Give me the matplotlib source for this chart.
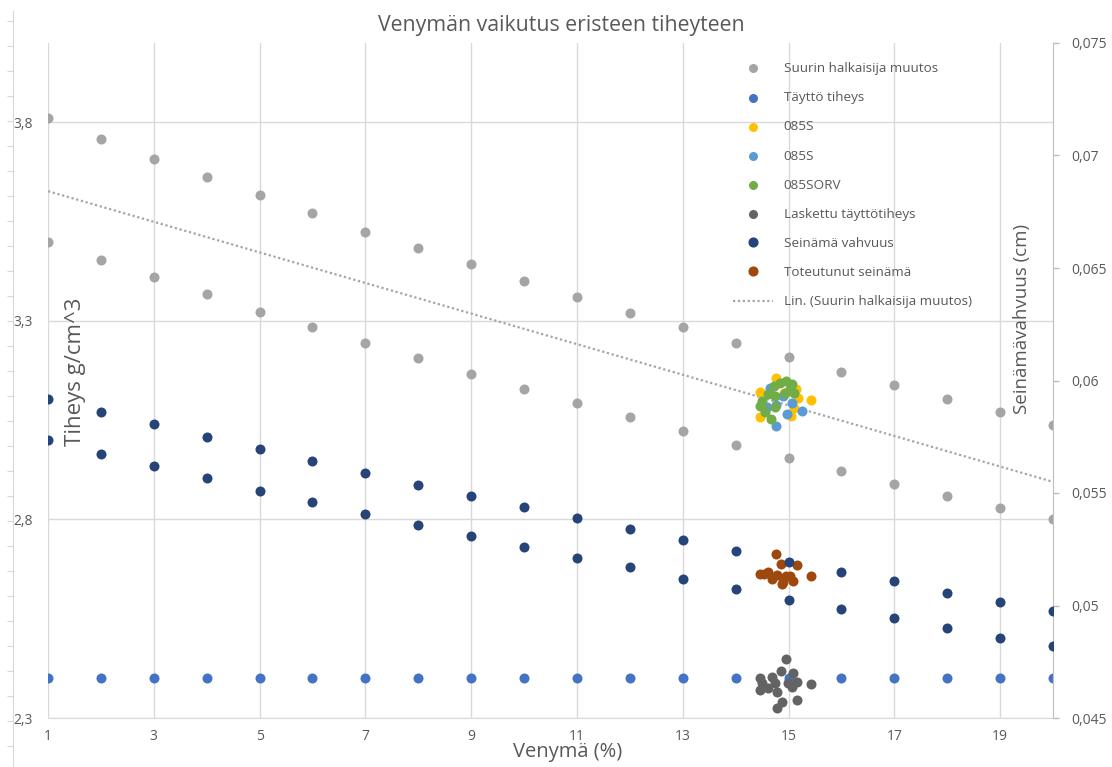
import matplotlib
matplotlib.use("Agg")
import matplotlib.pyplot as plt
import numpy as np
from matplotlib.lines import Line2D

plt.rcParams['font.family'] = ['Open Sans', 'DejaVu Sans']

# x positions (venymä %) for the regular series
venyma = list(range(1, 21))

# Suurin halkaisija muutos (two measurement rows, left axis)
halkaisija_ylempi = [3.810, 3.759, 3.709, 3.662, 3.617, 3.571, 3.524, 3.483, 3.443, 3.400,
                     3.360, 3.320, 3.285, 3.245, 3.210, 3.172, 3.139, 3.104, 3.071, 3.039]
halkaisija_alempi = [3.498, 3.453, 3.411, 3.368, 3.323, 3.285, 3.245, 3.207, 3.167, 3.129,
                     3.094, 3.059, 3.024, 2.988, 2.956, 2.923, 2.890, 2.860, 2.830, 2.800]

# Täyttö tiheys (left axis)
tayttotiheys = [2.4] * 20

# Seinämä vahvuus (right axis, cm)
seinama_ylempi = [0.05918, 0.05860, 0.05806, 0.05748, 0.05695, 0.05641, 0.05588, 0.05534,
                  0.05485, 0.05436, 0.05387, 0.05338, 0.05289, 0.05244, 0.05195, 0.05151,
                  0.05111, 0.05057, 0.05017, 0.04976]
seinama_alempi = [0.05735, 0.05672, 0.05619, 0.05565, 0.05507, 0.05458, 0.05405, 0.05356,
                  0.05307, 0.05262, 0.05209, 0.05169, 0.05120, 0.05075, 0.05026, 0.04986,
                  0.04946, 0.04901, 0.04854, 0.04820]

# sample clusters around 15 %
s085_keltainen_x = [14.76, 14.46, 15.42, 14.46, 15.14, 15.18, 15.05, 15.10, 14.91]
s085_keltainen_y = [3.157, 3.122, 3.102, 3.059, 3.129, 3.107, 3.061, 3.081, 3.119]
s085_sininen_x = [14.76, 15.25, 14.97, 15.06, 14.65, 14.59, 14.76, 14.89]
s085_sininen_y = [3.036, 3.074, 3.066, 3.094, 3.132, 3.084, 3.089, 3.112]
s085orv_x = [14.46, 14.61, 14.72, 14.84, 14.95, 15.06, 14.74, 14.93, 15.10, 14.55,
             14.74, 14.67, 15.03, 14.50]
s085orv_y = [3.086, 3.117, 3.137, 3.144, 3.149, 3.142, 3.112, 3.119, 3.119, 3.071,
             3.084, 3.054, 3.129, 3.099]
laskettu_x = [14.95, 14.46, 14.69, 14.86, 15.08, 15.16, 15.06, 15.42, 14.46, 14.61,
              14.74, 14.78, 14.99, 15.16, 14.88, 14.78, 14.50]
laskettu_y = [2.448, 2.400, 2.403, 2.418, 2.413, 2.390, 2.378, 2.385, 2.370, 2.375,
              2.388, 2.365, 2.388, 2.345, 2.340, 2.325, 2.388]
toteutunut_x = [14.76, 14.86, 15.16, 15.42, 14.46, 14.61, 14.69, 14.78, 14.89, 15.03,
                15.08, 14.88, 14.54, 14.95]
toteutunut_y = [0.05227, 0.05186, 0.05178, 0.05133, 0.05142, 0.05151, 0.05120, 0.05137,
                0.05106, 0.05129, 0.05111, 0.05097, 0.05142, 0.05129]

x_ticks = [1, 3, 5, 7, 9, 11, 13, 15, 17, 19]
y_ticks = [2.3, 2.8, 3.3, 3.8]
y_tick_labels = ['2,3', '2,8', '3,3', '3,8']
y2_ticks = [0.045, 0.05, 0.055, 0.06, 0.065, 0.07, 0.075]
y2_tick_labels = ['0,045', '0,05', '0,055', '0,06', '0,065', '0,07', '0,075']

W, H = 1112, 767
fig = plt.figure(figsize=(W / 100, H / 100), dpi=100)
ax = fig.add_axes([48 / W, 1 - 718 / H, (1053 - 48) / W, (718 - 43) / H])
ax2 = ax.twinx()

txt = '#595959'
grid = '#D9D9D9'
ms = 52

# left axis series
ax.scatter(venyma + venyma, halkaisija_ylempi + halkaisija_alempi, s=ms, color='#A5A5A5',
           lw=0, label='Suurin halkaisija muutos', zorder=3)
ax.scatter(venyma, tayttotiheys, s=ms, color='#4472C4', lw=0, label='Täyttö tiheys', zorder=3)
ax.scatter(s085_keltainen_x, s085_keltainen_y, s=ms, color='#FFC000', lw=0, label='085S', zorder=3)
ax.scatter(s085_sininen_x, s085_sininen_y, s=ms, color='#5B9BD5', lw=0, label='085S', zorder=3)
ax.scatter(s085orv_x, s085orv_y, s=ms, color='#70AD47', lw=0, label='085SORV', zorder=3)
ax.scatter(laskettu_x, laskettu_y, s=ms, color='#636363', lw=0, label='Laskettu täyttötiheys', zorder=3)

# linear trend of the diameter change
xs = np.array(venyma + venyma, dtype=float)
ys = np.array(halkaisija_ylempi + halkaisija_alempi)
k, b = np.polyfit(xs, ys, 1)
trend_x = np.array([min(venyma), max(venyma)])
ax.plot(trend_x, k * trend_x + b, color='#A5A5A5', lw=1.6, ls=(0, (1, 1.2)), zorder=2)

# right axis series
ax2.scatter(toteutunut_x, toteutunut_y, s=ms, color='#9E480E', lw=0, zorder=3)
ax2.scatter(venyma + venyma, seinama_ylempi + seinama_alempi, s=ms, color='#264478', lw=0, zorder=4)

ax.set_xlim(1, 20)
ax.set_ylim(2.3, 4.0)
ax2.set_ylim(0.045, 0.075)

ax.set_xticks(x_ticks)
ax.set_xticklabels([str(v) for v in x_ticks])
ax.set_yticks(y_ticks)
ax.set_yticklabels(y_tick_labels)
ax2.set_yticks(y2_ticks)
ax2.set_yticklabels(y2_tick_labels)

ax.grid(True, color=grid, lw=1)
ax.set_axisbelow(True)
for sp in ['top', 'left', 'right']:
    ax.spines[sp].set_visible(False)
ax.spines['bottom'].set_color(grid)
for sp in ['top', 'left', 'bottom']:
    ax2.spines[sp].set_visible(False)
ax2.spines['right'].set_color('#BFBFBF')

ax.tick_params(axis='x', length=0, pad=8, labelsize=10, labelcolor=txt)
ax.tick_params(axis='y', length=0, pad=11, labelsize=10, labelcolor=txt)
ax2.tick_params(axis='y', length=4, width=1, color='#BFBFBF', direction='out', pad=9,
                labelsize=10, labelcolor=txt)

# stray vertical axis line at the far left
side = fig.add_axes([13.3 / W, 0, 0.0005, 1 - 11 / H])
side.patch.set_visible(False)
for sp in ['top', 'right', 'bottom']:
    side.spines[sp].set_visible(False)
side.spines['left'].set_color(grid)
side.set_ylim(0, H - 11)
side.set_yticks(np.arange(H - 20.7, 0, -25))
side.set_xticks([])
side.tick_params(axis='y', length=4, color=grid, labelleft=False)

# texts
fig.text(561 / W, 1 - 25 / H, 'Venymän vaikutus eristeen tiheyteen', ha='center', va='center',
         fontsize=15.3, color=txt)
fig.text(568 / W, 1 - 752 / H, 'Venymä (%)', ha='center', va='center', fontsize=14.5, color=txt)
fig.text(76 / W, 1 - 372 / H, 'Tiheys g/cm^3', ha='center', va='center', rotation=90,
         fontsize=16, color=txt)
fig.text(1022 / W, 1 - 319 / H, 'Seinämävahvuus (cm)', ha='center', va='center', rotation=90,
         fontsize=13.5, color=txt)

# legend
handles, labels = ax.get_legend_handles_labels()
handles += [
    Line2D([], [], ls='', marker='o', ms=7, color='#264478'),
    Line2D([], [], ls='', marker='o', ms=7, color='#9E480E'),
    Line2D([], [], color='#A5A5A5', lw=1.6, ls=(0, (1, 1.2))),
]
labels += ['Seinämä vahvuus', 'Toteutunut seinämä', 'Lin. (Suurin halkaisija muutos)']
leg = ax2.legend(handles, labels, loc='upper left', bbox_to_anchor=(733 / W, 1 - 62 / H),
                 bbox_transform=fig.transFigure, frameon=False, fontsize=9.7,
                 labelcolor=txt, handlelength=3.0, handletextpad=0.75, labelspacing=1.2,
                 borderpad=0, borderaxespad=0, markerscale=0.9)

fig.savefig('out.png', dpi=100)
